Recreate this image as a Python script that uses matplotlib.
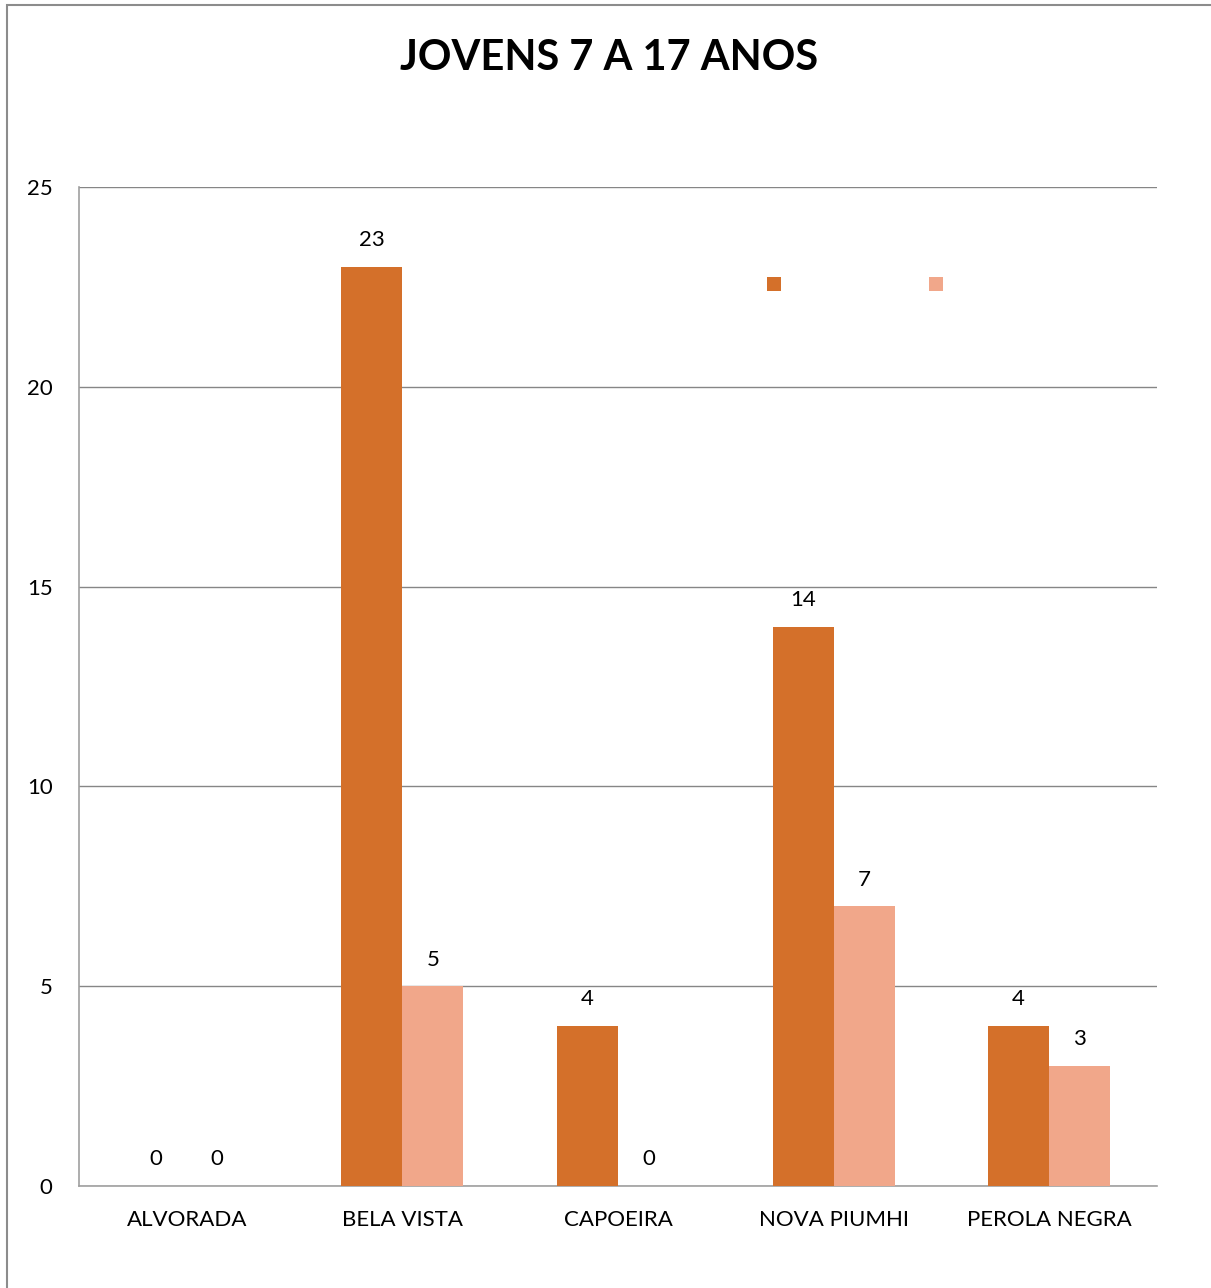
import matplotlib
matplotlib.use("Agg")
import matplotlib.pyplot as plt
from matplotlib.patches import Rectangle
import numpy as np

categories = ["ALVORADA", "BELA VISTA", "CAPOEIRA", "NOVA PIUMHI", "PEROLA NEGRA"]
series1 = [0, 23, 4, 14, 4]
series2 = [0, 5, 0, 7, 3]
yticks = [0, 5, 10, 15, 20, 25]
title = "JOVENS 7 A 17 ANOS"

c1 = "#D4702A"
c2 = "#F1A78A"
plt.rcParams['font.family'] = ['Lato', 'DejaVu Sans']

W, H = 1211, 1288
fig = plt.figure(figsize=(W/100, H/100), dpi=100)
ax = fig.add_axes([79/W, 1 - 1186/H, (1157-79)/W, (1186-187)/H])

x = np.arange(len(categories))
bw = 0.283
b1 = ax.bar(x - bw/2, series1, bw, color=c1, zorder=3)
b2 = ax.bar(x + bw/2, series2, bw, color=c2, zorder=3)

for bars, vals in ((b1, series1), (b2, series2)):
    for r, v in zip(bars, vals):
        ax.annotate(str(v), (r.get_x() + r.get_width()/2, v), xytext=(0, 12),
                    textcoords="offset points", ha="center", va="bottom", fontsize=16)

ax.set_xlim(-0.5, len(categories) - 0.5)
ax.set_ylim(0, 25)
ax.set_yticks(yticks)
ax.set_xticks(x)
ax.set_xticklabels(categories, fontsize=16)
ax.tick_params(axis='y', labelsize=16, length=0, pad=19)
ax.tick_params(axis='x', length=0, pad=17)
ax.yaxis.grid(True, color="#868686", linewidth=1, zorder=0)
for s in ("top", "right"):
    ax.spines[s].set_visible(False)
for s in ("left", "bottom"):
    ax.spines[s].set_color("#A0A0A0")
    ax.spines[s].set_linewidth(1.2)

fs = 15
leg = ax.legend([b1, b2], ["", ""], ncol=2, frameon=False, loc="center",
                bbox_to_anchor=((855 - 79)/(1157-79), (1186-285)/(1186-187)),
                handlelength=0.68, handleheight=0.68, columnspacing=7.1,
                handletextpad=0, fontsize=fs, borderpad=0, borderaxespad=0)

fig.text(609/W, 1 - 58/H, title, ha="center", va="center", fontsize=30, fontweight="bold")

fig.patches.append(Rectangle((7/W, -0.05), 1.0, 1.05 - 5/H, transform=fig.transFigure,
                             fill=False, edgecolor="#8C8C8C", linewidth=1.5))

fig.savefig("out.png", dpi=100)
